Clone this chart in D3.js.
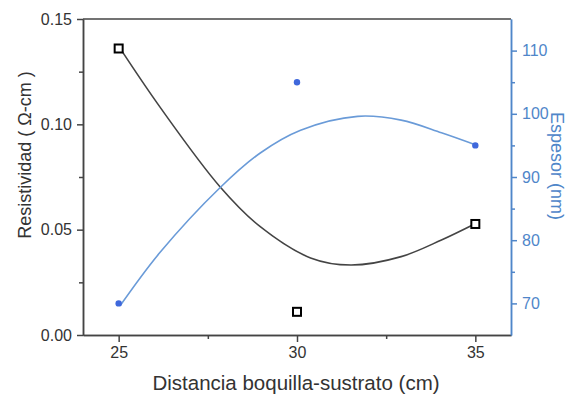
<!DOCTYPE html>
<html>
<head>
<meta charset="utf-8">
<script src="https://cdn.jsdelivr.net/npm/d3@7"></script>
<style>
body{margin:0;background:#fff;}
svg{font-family:"Liberation Sans",Arial,sans-serif;}
</style>
</head>
<body>
<svg id="chart" width="571" height="398"></svg>
<script>
// measured points
let dist=[25,30,35];
let resist=[0.136,0.011,0.0527];
let espesor=[70,105,95];

// fitted curves
let curveX=[25.05,26.15,27.84,28.97,30.38,31.51,32.92,34.05,34.98];
let curveRes=[0.1358,0.1084,0.0704,0.0514,0.0366,0.0332,0.0372,0.0451,0.0527];
let curveX2=[25.05,26.15,27.84,28.97,30.1,31.7,32.92,34.05,35.0];
let curveEsp=[69.7,78.0,88.3,93.8,97.4,99.6,99.0,97.0,95.1];

let xTicks=[25,30,35], xMinor=[27.5,32.5];
let yTicks=[0,0.05,0.1,0.15], yMinor=[0.025,0.075,0.125];
let y2Ticks=[70,80,90,100,110], y2Minor=[75,85,95,105];

let blue="#4f86c9", dark="#444";
let svg=d3.select("#chart");
let L=83,R=511,T=19,B=335;

let x=d3.scaleLinear().domain([24,36]).range([L,R]);
let y=d3.scaleLinear().domain([0,0.15]).range([B,T]);
let y2=d3.scaleLinear().domain([65,115]).range([B,T]);

// frame top
svg.append("line").attr("x1",L).attr("x2",R).attr("y1",T).attr("y2",T).attr("stroke",dark).attr("stroke-width",1.5);

svg.append("g").attr("transform","translate(0,"+B+")")
  .call(d3.axisBottom(x).tickValues(xTicks).tickSize(7).tickPadding(5).tickFormat(d3.format("d")).tickSizeOuter(0));
svg.append("g").attr("transform","translate(0,"+B+")")
  .call(d3.axisBottom(x).tickValues(xMinor).tickSize(4).tickFormat("").tickSizeOuter(0));
svg.append("g").attr("transform","translate("+L+",0)")
  .call(d3.axisLeft(y).tickValues(yTicks).tickSize(6).tickPadding(5).tickFormat(d3.format(".2f")).tickSizeOuter(0));
svg.append("g").attr("transform","translate("+L+",0)")
  .call(d3.axisLeft(y).tickValues(yMinor).tickSize(4).tickFormat("").tickSizeOuter(0));
svg.append("g").attr("class","blue").attr("transform","translate("+R+",0)")
  .call(d3.axisRight(y2).tickValues(y2Ticks).tickSize(6).tickPadding(5).tickFormat(d3.format("d")).tickSizeOuter(0));
svg.append("g").attr("class","blue").attr("transform","translate("+R+",0)")
  .call(d3.axisRight(y2).tickValues(y2Minor).tickSize(4).tickFormat("").tickSizeOuter(0));

svg.selectAll(".domain,.tick line").attr("stroke",dark).attr("stroke-width",1.5);
svg.selectAll(".blue .domain,.blue .tick line").attr("stroke",blue);
svg.selectAll(".tick text").style("font-size","16px").attr("fill","#333");
svg.selectAll(".blue .tick text").attr("fill",blue);

// curves
let line=d3.line().curve(d3.curveCatmullRom);
svg.append("path").attr("d",line(curveX.map((d,i)=>[x(d),y(curveRes[i])])))
  .attr("fill","none").attr("stroke",dark).attr("stroke-width",1.6);
svg.append("path").attr("d",line(curveX2.map((d,i)=>[x(d),y2(curveEsp[i])])))
  .attr("fill","none").attr("stroke","#6a9bd8").attr("stroke-width",1.6);

// markers
svg.selectAll(".sq").data(dist).enter().append("rect")
  .attr("x",d=>x(d)-4).attr("y",(d,i)=>y(resist[i])-4).attr("width",8).attr("height",8)
  .attr("fill","#fff").attr("stroke","#000").attr("stroke-width",2);
svg.selectAll(".dot").data(dist).enter().append("circle")
  .attr("cx",d=>x(d)).attr("cy",(d,i)=>y2(espesor[i])).attr("r",3.2).attr("fill","#3f68dc");

// titles
svg.append("text").text("Distancia boquilla-sustrato (cm)").attr("x",296).attr("y",390)
  .attr("text-anchor","middle").style("font-size","20.5px").attr("fill","#333");
svg.append("text").text("Resistividad ( Ω-cm )").attr("transform","translate(31,155) rotate(-90)")
  .attr("text-anchor","middle").style("font-size","18px").attr("fill","#333");
svg.append("text").text("Espesor (nm)").attr("transform","translate(551,166) rotate(90)")
  .attr("text-anchor","middle").style("font-size","18px").attr("fill",blue);
</script>
</body>
</html>
